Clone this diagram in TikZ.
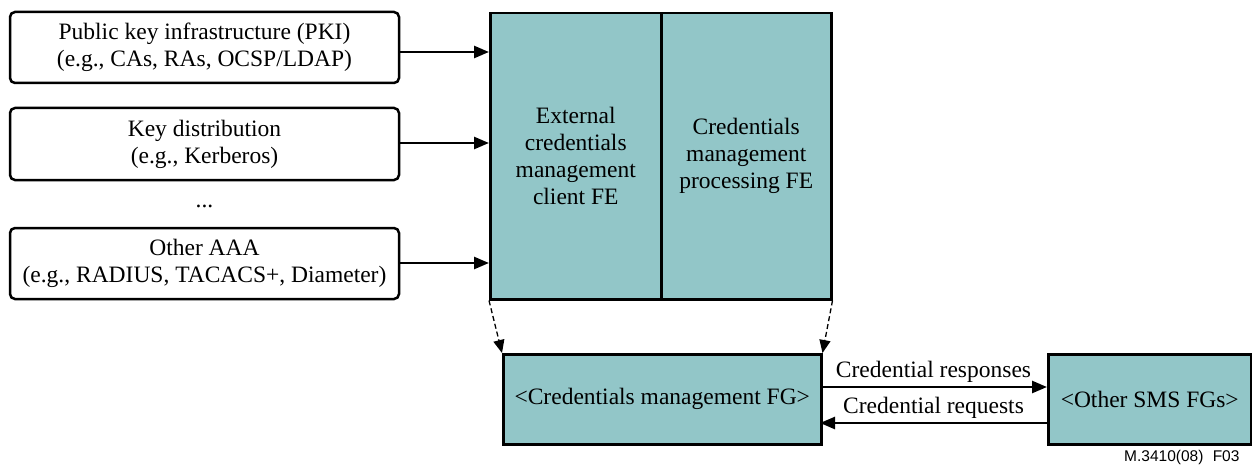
\documentclass[tikz,border=0pt]{standalone}
\usepackage{fontspec}
\setmainfont{Liberation Serif}
\newfontfamily\tagfont{Liberation Sans}
\usetikzlibrary{arrows.meta}
\definecolor{fgteal}{RGB}{146,198,200}
\begin{document}
\begin{tikzpicture}[x=1pt,y=-1pt,
  srcbox/.style={draw,line width=2.5pt,rounded corners=5pt},
  tealbox/.style={draw,line width=2.5pt,fill=fgteal,inner sep=0pt,anchor=north west},
  flow/.style={line width=2.5pt,-{Triangle[length=15pt,width=12pt]}},
  refine/.style={line width=1.3pt,dash pattern=on 5pt off 3pt,-{Triangle[length=13pt,width=11pt]}},
  lbl/.style={font=\fontsize{23.5}{27}\selectfont,align=center}]
\useasboundingbox (0,0) rectangle (1252,468);

% external credential sources
\draw[srcbox] (10,12) rectangle (399,83);
\node[lbl] (pki) at (204.5,47.5) {Public key infrastructure (PKI)\\(e.g., CAs, RAs, OCSP/LDAP)};
\draw[srcbox] (10,108) rectangle (399,180);
\node[lbl] (kd) at (204.5,144) {Key distribution\\(e.g., Kerberos)};
\node[lbl] (dots) at (204.5,206) {...};
\draw[srcbox] (10,228) rectangle (399,299);
\node[lbl] (aaa) at (204.5,263.5) {Other AAA\\(e.g., RADIUS, TACACS+, Diameter)};
\coordinate (pkiE) at (399,52);
\coordinate (kdE) at (399,143);
\coordinate (aaaE) at (399,263);

% functional entities
\node[tealbox,minimum width=171pt,minimum height=286pt] (client) at (489,12) {};
\node[tealbox,minimum width=170pt,minimum height=286pt] (proc) at (660,12) {};
\node[lbl] at (client.center) {External\\credentials\\management\\client FE};
\node[lbl] at (proc.center) {Credentials\\management\\processing FE};

\draw[flow] (pkiE) -- (pkiE -| client.west);
\draw[flow] (kdE) -- (kdE -| client.west);
\draw[flow] (aaaE) -- (aaaE -| client.west);

% functional groups
\node[tealbox,minimum width=318pt,minimum height=90pt] (fg) at (502,353) {};
\node[lbl] at (fg.center) {<Credentials management FG>};
\node[tealbox,minimum width=203pt,minimum height=90pt] (sms) at (1047,353) {};
\node[lbl] at (sms.center) {<Other SMS FGs>};

\draw[refine] (client.south west) -- (fg.north west);
\draw[refine] (proc.south east) -- (fg.north east);

\coordinate (respA) at (820,387);
\coordinate (reqA) at (820,423);
\draw[flow] (respA) -- (respA -| sms.west) node[midway,above=0pt,lbl] {Credential responses};
\draw[flow] (reqA -| sms.west) -- (reqA) node[midway,above=0pt,lbl] {Credential requests};

\node[font=\tagfont\fontsize{15.5}{18}\selectfont,anchor=east] (tag) at (1243,457) {M.3410(08)\hspace{0.6em}F03};
\end{tikzpicture}
\end{document}
